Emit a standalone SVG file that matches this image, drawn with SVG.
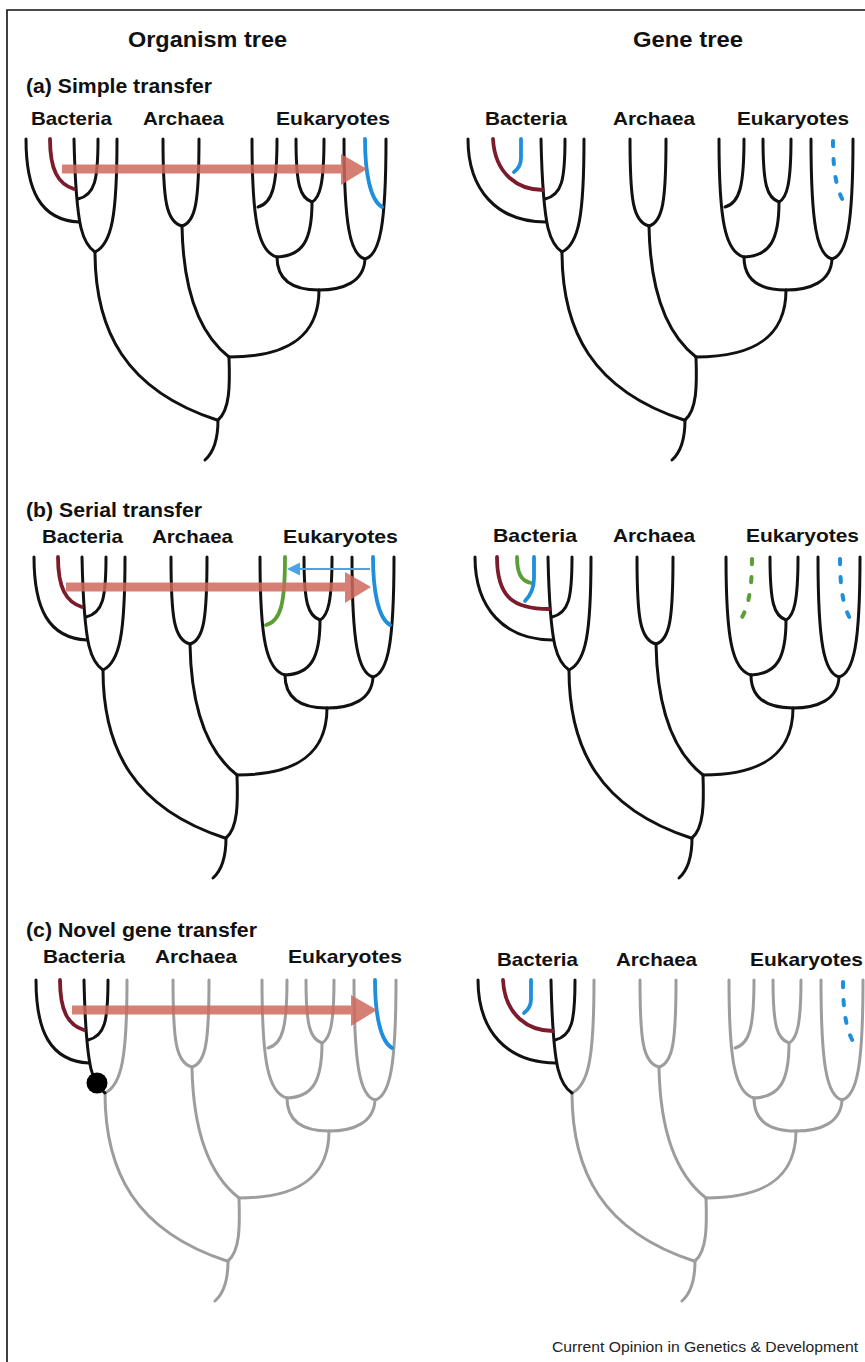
<svg xmlns="http://www.w3.org/2000/svg" xmlns:xlink="http://www.w3.org/1999/xlink" width="865" height="1362" viewBox="0 0 865 1362">
<style>
.t{font-family:'Liberation Sans',Arial,Helvetica,sans-serif;font-weight:bold;fill:#111}
.title{font-size:22px}
.plab{font-size:20px}
.lab{font-size:19px}
.foot{font-family:'Liberation Sans',Arial,Helvetica,sans-serif;font-size:15px;fill:#222}
.blk{stroke:#111;stroke-width:3;fill:none;stroke-linecap:round}
.gry{stroke:#9d9d9d;stroke-width:3;fill:none;stroke-linecap:round}
.mar{stroke:#7b1c2c;stroke-width:3.8;fill:none;stroke-linecap:round}
.blu{stroke:#1f8fdc;stroke-width:3.8;fill:none;stroke-linecap:round}
.grn{stroke:#5b9e35;stroke-width:3.8;fill:none;stroke-linecap:round}
.bdot{stroke:#1f8fdc;stroke-width:4;fill:none;stroke-linecap:round;stroke-dasharray:5 13}
.gdot{stroke:#5b9e35;stroke-width:4;fill:none;stroke-linecap:round;stroke-dasharray:5 13}
.arr{fill:#cf6a5d;opacity:0.85}
</style>
<defs>
  <g id="core">
    <path d="M95,252 C95,330 125,390 217,420"/>
    <path d="M163,139 C163,200 166,222 182,226"/>
    <path d="M199,139 C199,200 196,222 182,226"/>
    <path d="M182,226 C183,285 197,332 229,357"/>
    <path d="M252,139 C252,220 258,252 277,257"/>
    <path d="M296,139 C296,185 300,198 312,202"/>
    <path d="M324,139 C324,183 320,198 312,202"/>
    <path d="M312,202 C312,240 303,256 277,257"/>
    <path d="M344,139 C344,225 350,255 365,259"/>
    <path d="M386,139 C386,225 380,255 365,259"/>
    <path d="M277,257 C277,282 295,290 319,290"/>
    <path d="M365,259 C364,282 343,290 319,290"/>
    <path d="M319,290 C319,335 290,357 229,357"/>
    <path d="M229,357 C230,385 230,410 218,420"/>
    <path d="M218,420 C218,440 214,452 205,460"/>
  </g>
  <path id="L1o" d="M26,139 C26,190 40,220 79,222"/>
  <path id="L1g" d="M1,139 C1,190 30,222 79,222"/>
  <path id="L2o" d="M50,139 C50,170 58,184 74,189"/>
  <path id="L3" d="M74,139 C75,185 78,215 81,228 C84,240 89,248 95,252"/>
  <path id="L4" d="M98,139 C98,180 95,195 78,199"/>
  <path id="L5" d="M117,139 C117,215 112,244 95,252"/>
  <path id="E2" d="M277,139 C277,185 273,203 258,207"/>
  <path id="E6" d="M365,139 C365,172 370,200 382,207"/>
  <path id="E6d" d="M366,141 C366,168 369,190 377,202"/>
  <path id="E2d" d="M278,141 C278,168 275,188 267,201"/>
  <path id="mg" d="M26,139 C28,175 52,190 76,190"/>
  <path id="bg" d="M54,139 L54,158 C54,165 51,169 47,172"/>
  <g id="bigArrow">
    <path class="arr" d="M62,164.5 L341,164.5 L341,154 L367,169 L341,185 L341,173.5 L62,173.5 Z"/>
  </g>
</defs>

<g id="frame" fill="none" stroke="#111" stroke-width="1.6">
  <path d="M7,1362 L7,10 L865,10"/>
</g>

<g id="headings">
  <text class="t title" x="128" y="47" textLength="159" lengthAdjust="spacingAndGlyphs">Organism tree</text>
  <text class="t title" x="633" y="47" textLength="110" lengthAdjust="spacingAndGlyphs">Gene tree</text>
  <text class="t plab" x="26" y="93" textLength="186" lengthAdjust="spacingAndGlyphs">(a) Simple transfer</text>
  <text class="t plab" x="26" y="517" textLength="176" lengthAdjust="spacingAndGlyphs">(b) Serial transfer</text>
  <text class="t plab" x="26" y="937" textLength="231" lengthAdjust="spacingAndGlyphs">(c) Novel gene transfer</text>
</g>

<g id="labels">
  <text class="t lab" x="31" y="125" textLength="81" lengthAdjust="spacingAndGlyphs">Bacteria</text>
  <text class="t lab" x="143" y="125" textLength="81" lengthAdjust="spacingAndGlyphs">Archaea</text>
  <text class="t lab" x="276" y="125" textLength="114" lengthAdjust="spacingAndGlyphs">Eukaryotes</text>
  <text class="t lab" x="485" y="125" textLength="82" lengthAdjust="spacingAndGlyphs">Bacteria</text>
  <text class="t lab" x="613" y="125" textLength="82" lengthAdjust="spacingAndGlyphs">Archaea</text>
  <text class="t lab" x="737" y="125" textLength="112" lengthAdjust="spacingAndGlyphs">Eukaryotes</text>

  <text class="t lab" x="42" y="543" textLength="81" lengthAdjust="spacingAndGlyphs">Bacteria</text>
  <text class="t lab" x="152" y="543" textLength="81" lengthAdjust="spacingAndGlyphs">Archaea</text>
  <text class="t lab" x="283" y="543" textLength="115" lengthAdjust="spacingAndGlyphs">Eukaryotes</text>
  <text class="t lab" x="493" y="542" textLength="84" lengthAdjust="spacingAndGlyphs">Bacteria</text>
  <text class="t lab" x="613" y="542" textLength="82" lengthAdjust="spacingAndGlyphs">Archaea</text>
  <text class="t lab" x="746" y="542" textLength="113" lengthAdjust="spacingAndGlyphs">Eukaryotes</text>

  <text class="t lab" x="43" y="963" textLength="82" lengthAdjust="spacingAndGlyphs">Bacteria</text>
  <text class="t lab" x="155" y="963" textLength="82" lengthAdjust="spacingAndGlyphs">Archaea</text>
  <text class="t lab" x="288" y="963" textLength="114" lengthAdjust="spacingAndGlyphs">Eukaryotes</text>
  <text class="t lab" x="497" y="966" textLength="81" lengthAdjust="spacingAndGlyphs">Bacteria</text>
  <text class="t lab" x="616" y="966" textLength="81" lengthAdjust="spacingAndGlyphs">Archaea</text>
  <text class="t lab" x="750" y="966" textLength="113" lengthAdjust="spacingAndGlyphs">Eukaryotes</text>
</g>

<g id="organism-a">
  <use href="#core" class="blk"/>
  <use href="#L1o" class="blk"/>
  <use href="#L3" class="blk"/>
  <use href="#L4" class="blk"/>
  <use href="#L5" class="blk"/>
  <use href="#E2" class="blk"/>
  <use href="#L2o" class="mar"/>
  <use href="#E6" class="blu"/>
</g>

<g id="gene-a" transform="translate(467,0)">
  <use href="#core" class="blk"/>
  <use href="#L1g" class="blk"/>
  <use href="#L3" class="blk"/>
  <use href="#L4" class="blk"/>
  <use href="#L5" class="blk"/>
  <use href="#E2" class="blk"/>
  <use href="#mg" class="mar"/>
  <use href="#bg" class="blu"/>
  <use href="#E6d" class="bdot"/>
</g>

<g id="organism-b" transform="translate(8,418)">
  <use href="#core" class="blk"/>
  <use href="#L1o" class="blk"/>
  <use href="#L3" class="blk"/>
  <use href="#L4" class="blk"/>
  <use href="#L5" class="blk"/>
  <use href="#L2o" class="mar"/>
  <use href="#E2" class="grn"/>
  <use href="#E6" class="blu"/>
</g>

<g id="gene-b" transform="translate(474,418)">
  <use href="#core" class="blk"/>
  <use href="#L1g" class="blk"/>
  <use href="#L3" class="blk"/>
  <use href="#L4" class="blk"/>
  <use href="#L5" class="blk"/>
  <path class="mar" d="M23,139 C23,180 40,191 75,191"/>
  <path class="grn" d="M43,139 C43,155 47,163 57,165"/>
  <path class="blu" d="M60,139 L60,160 C60,170 56,178 51,183"/>
  <use href="#E2d" class="gdot"/>
  <use href="#E6d" class="bdot"/>
</g>

<g id="organism-c" transform="translate(10,841)">
  <use href="#core" class="gry"/>
  <use href="#L5" class="gry"/>
  <use href="#E2" class="gry"/>
  <use href="#L1o" class="blk"/>
  <use href="#L3" class="blk"/>
  <use href="#L4" class="blk"/>
  <use href="#L2o" class="mar"/>
  <use href="#E6" class="blu"/>
  <circle cx="87" cy="242" r="10.5" fill="#000"/>
</g>

<g id="gene-c" transform="translate(477,841)">
  <use href="#core" class="gry"/>
  <use href="#L5" class="gry"/>
  <use href="#E2" class="gry"/>
  <use href="#L1g" class="blk"/>
  <use href="#L3" class="blk"/>
  <use href="#L4" class="blk"/>
  <use href="#mg" class="mar"/>
  <use href="#bg" class="blu"/>
  <use href="#E6d" class="bdot"/>
</g>

<g id="connectors">
  <use href="#bigArrow"/>
  <use href="#bigArrow" transform="translate(4,418)"/>
  <use href="#bigArrow" transform="translate(10,841)"/>
  <g id="thin-arrow-b">
    <path d="M370,569 L297,569" stroke="#4aa3e6" stroke-width="2.2" fill="none"/>
    <path d="M287,569 L300,562.5 L300,575.5 Z" fill="#4aa3e6"/>
  </g>
</g>

<text class="foot" x="552" y="1352" textLength="306" lengthAdjust="spacingAndGlyphs">Current Opinion in Genetics &amp; Development</text>
</svg>
